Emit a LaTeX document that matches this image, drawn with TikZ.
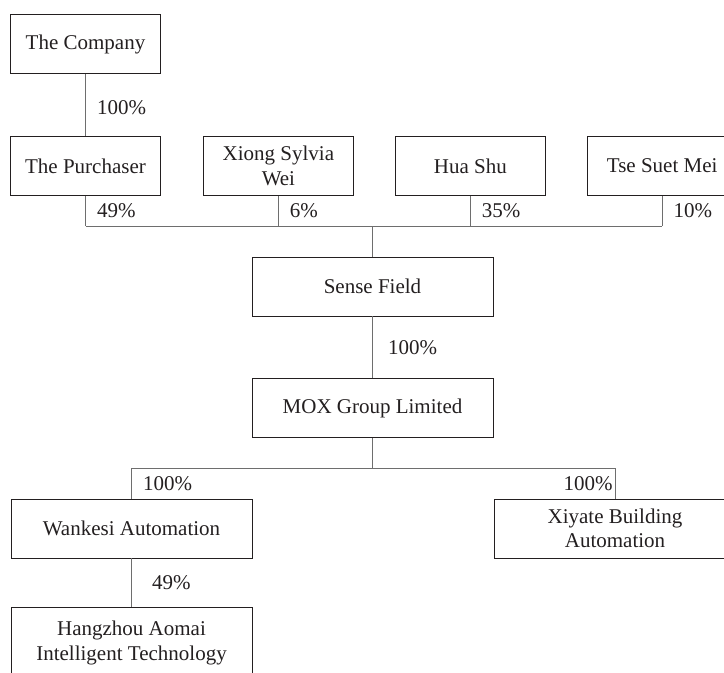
\documentclass[tikz,border=0pt]{standalone}
\usepackage{fontspec}
\setmainfont{Liberation Serif}
\usetikzlibrary{positioning}
\definecolor{orgline}{HTML}{6E6E6E}
\definecolor{orgtext}{HTML}{231F20}

\begin{document}
\begin{tikzpicture}[node distance=62pt and 42pt, every node/.style={font=\fontsize{21}{24.5}\selectfont, text=orgtext}, entity/.style={draw=orgtext, line width=0.9pt, minimum width=150pt, minimum height=59pt, align=center, inner sep=2pt}, wide/.style={entity, minimum width=241pt}, link/.style={draw=orgline, line width=1pt}, share/.style={anchor=west, inner sep=0pt, xshift=11pt}]
\useasboundingbox (0,0) rectangle (724pt,-673pt);
\node[entity] (company) at (85.5pt,-44pt) {The Company};
\node[entity, below=of company] (purchaser) {The Purchaser};
\node[entity, right=of purchaser] (xiong) {Xiong Sylvia\\Wei};
\node[entity, right=41pt of xiong] (huashu) {Hua Shu};
\node[entity, right=41pt of huashu] (tse) {Tse Suet Mei};
\node[wide] (sense) at (372.5pt,-286.5pt) {Sense Field};
\node[wide, below=of sense] (mox) {MOX Group Limited};
\node[wide] (wankesi) at (131.5pt,-528.5pt) {Wankesi Automation};
\node[wide] (xiyate) at (615pt,-528.5pt) {Xiyate Building\\Automation};
\node[wide, below=49pt of wankesi, minimum height=70pt] (hangzhou) {Hangzhou Aomai\\Intelligent Technology};
\coordinate (bus1) at (0,-226pt);
\coordinate (bus2) at (0,-468pt);
\draw[link] (company) -- node[share, yshift=-3pt]{100\%} (purchaser);
\draw[link] (purchaser.south |- bus1) -- (tse.south |- bus1);
\foreach \n/\p in {purchaser/49, xiong/6, huashu/35, tse/10}
  \draw[link] (\n) -- node[share]{\p\%} (\n.south |- bus1);
\draw[link] (sense) -- (sense.north |- bus1);
\draw[link] (sense) -- node[share, xshift=4pt]{100\%} (mox);
\draw[link] (mox) -- (mox.south |- bus2);
\draw[link] (wankesi.north |- bus2) -- (xiyate.north |- bus2);
\draw[link] (wankesi) -- node[share]{100\%} (wankesi.north |- bus2);
\draw[link] (xiyate) -- node[share, anchor=east, xshift=-13pt]{100\%} (xiyate.north |- bus2);
\draw[link] (wankesi) -- node[share, xshift=9pt]{49\%} (hangzhou);
\end{tikzpicture}
\end{document}
